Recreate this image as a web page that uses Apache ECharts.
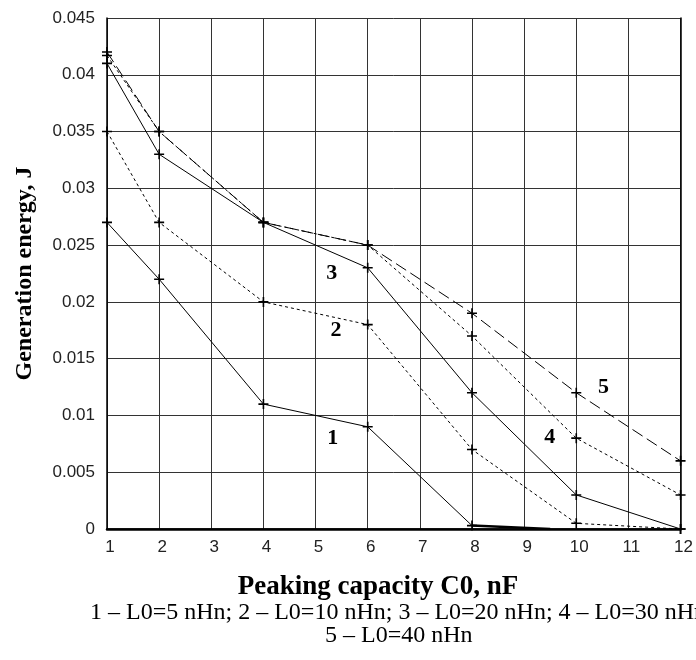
<!DOCTYPE html>
<html>
<head>
<meta charset="utf-8">
<script src="https://cdn.jsdelivr.net/npm/echarts@6/dist/echarts.min.js"></script>
<style>
  html, body { margin: 0; padding: 0; background: #fff; }
  #chart { width: 696px; height: 660px; }
</style>
</head>
<body>
<div id="chart"></div>
<script>
// capacity C0, nF
const xValues = [1, 2, 4, 6, 8, 10, 12];

// generation energy, J
const curve1 = [0.027, 0.022, 0.011, 0.009, 0.0003];
const curve1Tail = [[8, 0.0003], [9.5, 0]];
const curve2 = [0.035, 0.027, 0.020, 0.018, 0.007, 0.0005, 0];
const curve3 = [0.041, 0.033, 0.027, 0.023, 0.012, 0.003, 0];
const curve4 = [0.0417, 0.035, 0.027, 0.025, 0.017, 0.008, 0.003];
const curve5 = [0.042, 0.035, 0.027, 0.025, 0.019, 0.012, 0.006];

// curve numbers placed in data coords
const curveLabels = [
  { name: "1", coord: [5.33, 0.0080] },
  { name: "2", coord: [5.39, 0.0175] },
  { name: "3", coord: [5.31, 0.0225] },
  { name: "4", coord: [9.49, 0.0081] },
  { name: "5", coord: [10.52, 0.0125] }
];

const xTitle = "Peaking capacity C0, nF";
const yTitle = "Generation energy, J";
const legendLine1 = "1 – L0=5 nHn; 2 – L0=10 nHn; 3 – L0=20 nHn; 4 – L0=30 nHn";
const legendLine2 = "5 – L0=40 nHn";

const plus = "path://M-0.16,-1L0.16,-1L0.16,-0.16L1,-0.16L1,0.16L0.16,0.16L0.16,1L-0.16,1L-0.16,0.16L-1,0.16L-1,-0.16L-0.16,-0.16Z";

function pairs(ys) {
  return ys.map((y, i) => [xValues[i], y]);
}

function curve(name, ys, dash) {
  return {
    name: name,
    type: "line",
    data: Array.isArray(ys[0]) ? ys : pairs(ys),
    symbol: plus,
    symbolSize: 10,
    showSymbol: true,
    itemStyle: { color: "#000" },
    lineStyle: { color: "#000", width: 1, type: dash },
    animation: false,
    z: 3
  };
}

const chart = echarts.init(document.getElementById("chart"));

const series = [
  curve("1", curve1, "solid"),
  Object.assign(curve("1b", curve1Tail, "solid"), { symbol: "none", lineStyle: { color: "#000", width: 2.5 } }),
  curve("2", curve2, [3, 3]),
  curve("3", curve3, "solid"),
  curve("4", curve4, [3, 3]),
  curve("5", curve5, [12, 5]),
  {
    type: "scatter",
    data: [],
    silent: true,
    markPoint: {
      symbol: "circle",
      symbolSize: 1,
      itemStyle: { color: "rgba(0,0,0,0)" },
      label: {
        show: true,
        position: "inside",
        formatter: "{b}",
        fontFamily: "Liberation Serif",
        fontWeight: "bold",
        fontSize: 22,
        color: "#000"
      },
      data: curveLabels
    }
  }
];

const option = {
  backgroundColor: "#fff",
  animation: false,
  grid: { left: 107, right: 15, top: 18, bottom: 131, containLabel: false },
  xAxis: [
    {
      type: "value",
      min: 1,
      max: 12,
      interval: 1,
      axisLine: { show: true, lineStyle: { color: "#000", width: 1.5 } },
      axisTick: { show: false },
      splitLine: { show: true, lineStyle: { color: "#333", width: 1 } },
      axisLabel: {
        color: "#222",
        fontFamily: "Liberation Sans",
        fontSize: 17,
        margin: 10,
        padding: [0, 0, 0, 6]
      }
    },
    {
      type: "value",
      position: "top",
      min: 1,
      max: 12,
      interval: 1,
      axisLine: { show: true, lineStyle: { color: "#000", width: 2.5 } },
      axisTick: { show: false },
      axisLabel: { show: false },
      splitLine: { show: false }
    }
  ],
  yAxis: [
    {
      type: "value",
      min: 0,
      max: 0.045,
      interval: 0.005,
      name: yTitle,
      nameLocation: "middle",
      nameGap: 70,
      nameTextStyle: {
        fontFamily: "Liberation Serif",
        fontWeight: "bold",
        fontSize: 24,
        color: "#000"
      },
      axisLine: { show: true, lineStyle: { color: "#000", width: 1.5 } },
      axisTick: { show: false },
      splitLine: { show: true, lineStyle: { color: "#333", width: 1 } },
      axisLabel: {
        color: "#222",
        fontFamily: "Liberation Sans",
        fontSize: 17,
        margin: 12
      }
    },
    {
      type: "value",
      position: "right",
      min: 0,
      max: 0.045,
      interval: 0.005,
      axisLine: { show: true, lineStyle: { color: "#000", width: 1.5 } },
      axisTick: { show: false },
      axisLabel: { show: false },
      splitLine: { show: false }
    }
  ],
  graphic: [
    {
      type: "text",
      x: 378,
      y: 574,
      style: {
        text: xTitle,
        align: "center",
        fontFamily: "Liberation Serif",
        fontWeight: "bold",
        fontSize: 27,
        fill: "#000"
      }
    },
    {
      type: "text",
      x: 90,
      y: 601,
      style: {
        text: legendLine1,
        fontFamily: "Liberation Serif",
        fontSize: 24,
        fill: "#000"
      }
    },
    {
      type: "text",
      x: 325,
      y: 624,
      style: {
        text: legendLine2,
        fontFamily: "Liberation Serif",
        fontSize: 24,
        fill: "#000"
      }
    }
  ],
  series: series
};

chart.setOption(option);
</script>
</body>
</html>
